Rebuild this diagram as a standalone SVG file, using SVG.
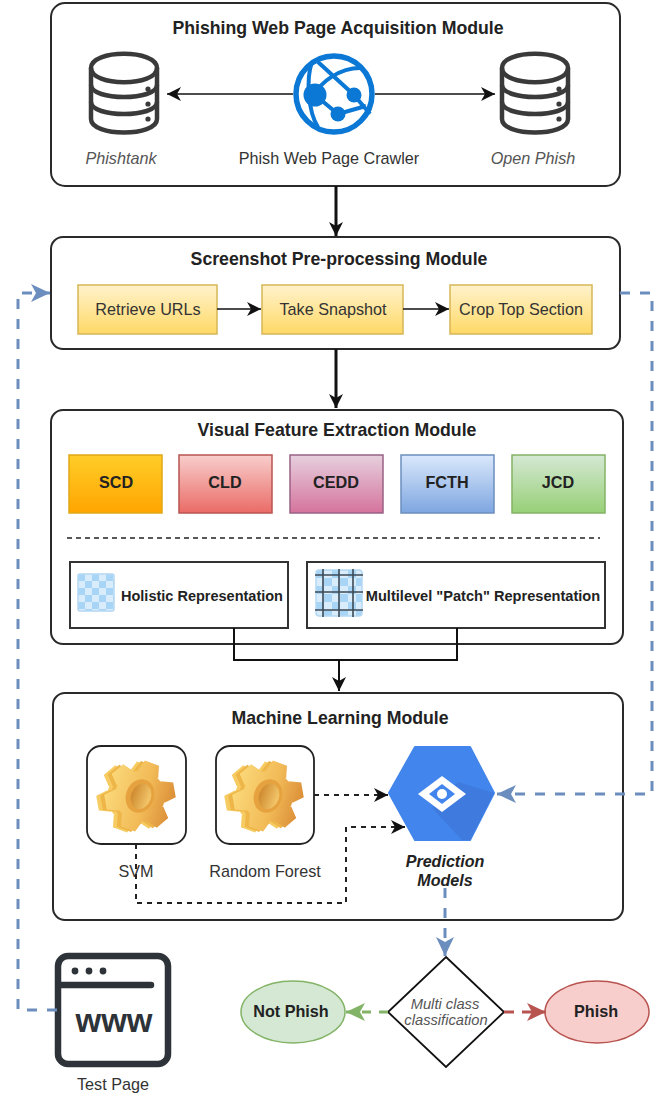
<svg xmlns="http://www.w3.org/2000/svg" xmlns:xlink="http://www.w3.org/1999/xlink" width="669" height="1097" viewBox="0 0 669 1097">
<style>
text{font-family:"Liberation Sans",Arial,sans-serif;fill:#222;text-anchor:middle}
.t{font-weight:bold;font-size:17.7px}
.l{font-size:16.2px;fill:#333}
.i{font-style:italic;font-size:16.2px;fill:#555}
.b{font-weight:bold;font-size:16.2px}
.m{fill:#fff;stroke:#2a2a2a;stroke-width:2}
.fb{stroke-width:1.5}
.rep{fill:#fff;stroke:#333;stroke-width:2}
.gb{fill:#fff;stroke:#222;stroke-width:1.8}
.c{fill:none;stroke:#111}
.d{fill:none;stroke:#222;stroke-width:2;stroke-dasharray:5 5}
.bl{fill:none;stroke:#6c8ebf;stroke-width:3;stroke-dasharray:10 10}
</style>
<defs>
<linearGradient id="gY" x1="0" y1="0" x2="0" y2="1"><stop offset="0" stop-color="#fff2cc"/><stop offset="1" stop-color="#ffd966"/></linearGradient>
<linearGradient id="g1" x1="0" y1="0" x2="0" y2="1"><stop offset="0" stop-color="#ffcd28"/><stop offset="1" stop-color="#ffa500"/></linearGradient>
<linearGradient id="g2" x1="0" y1="0" x2="0" y2="1"><stop offset="0" stop-color="#f8cecc"/><stop offset="1" stop-color="#ea6b66"/></linearGradient>
<linearGradient id="g3" x1="0" y1="0" x2="0" y2="1"><stop offset="0" stop-color="#e6d0de"/><stop offset="1" stop-color="#d5739d"/></linearGradient>
<linearGradient id="g4" x1="0" y1="0" x2="0" y2="1"><stop offset="0" stop-color="#dae8fc"/><stop offset="1" stop-color="#7ea6e0"/></linearGradient>
<linearGradient id="g5" x1="0" y1="0" x2="0" y2="1"><stop offset="0" stop-color="#d5e8d4"/><stop offset="1" stop-color="#97d077"/></linearGradient>
<linearGradient id="gf" gradientUnits="userSpaceOnUse" x1="-34" y1="-10" x2="36" y2="10"><stop offset="0" stop-color="#fbd97a"/><stop offset=".55" stop-color="#f2bb58"/><stop offset="1" stop-color="#d98a34"/></linearGradient>
<linearGradient id="gh" gradientUnits="userSpaceOnUse" x1="-12" y1="0" x2="12" y2="0"><stop offset="0" stop-color="#c97f25"/><stop offset="1" stop-color="#f6cc70"/></linearGradient>
<path id="tooth" d="M-11,-23 L-7.5,-35 L7.5,-35 L11,-23Z"/>
<clipPath id="gearClip">
<circle r="25"/>
<use href="#tooth" transform="rotate(20)"/><use href="#tooth" transform="rotate(80)"/><use href="#tooth" transform="rotate(140)"/><use href="#tooth" transform="rotate(200)"/><use href="#tooth" transform="rotate(260)"/><use href="#tooth" transform="rotate(320)"/>
</clipPath>
<g id="gear">
<g transform="translate(-8,1)"><rect x="-45" y="-45" width="90" height="90" fill="#f6cb62" clip-path="url(#gearClip)"/></g>
<g transform="translate(-4,0.5)"><rect x="-45" y="-45" width="90" height="90" fill="#eeb548" clip-path="url(#gearClip)"/></g>
<rect x="-45" y="-45" width="90" height="90" fill="url(#gf)" clip-path="url(#gearClip)"/>
<ellipse rx="14" ry="17" fill="#e5a23f" transform="rotate(20)"/>
<ellipse cx="1" cy="0" rx="10" ry="13" fill="url(#gh)" transform="rotate(20)"/>
</g>
<g id="db" fill="none" stroke="#3a3a3a" stroke-width="4.5">
<path d="M2,15 C2,-4 68,-4 68,15 V66 C68,84 2,84 2,66 Z"/>
<path d="M2,15 C2,34 68,34 68,15"/>
<path d="M2,32 C2,48 68,48 68,32"/>
<path d="M2,49 C2,65 68,65 68,49"/>
<g fill="#3a3a3a" stroke="none"><circle cx="59" cy="36" r="2.6"/><circle cx="59" cy="51" r="2.6"/><circle cx="59" cy="66" r="2.6"/></g>
</g>
<pattern id="chk" patternUnits="userSpaceOnUse" width="14" height="14" x="78" y="574"><rect width="14" height="14" fill="#d8ecfb"/><rect width="7" height="7" fill="#a8d4f5"/><rect x="7" y="7" width="7" height="7" fill="#a8d4f5"/></pattern>
<pattern id="chk2" patternUnits="userSpaceOnUse" width="16" height="16" x="316" y="570"><rect width="16" height="16" fill="#d8ecfb"/><rect width="8" height="8" fill="#a8d4f5"/><rect x="8" y="8" width="8" height="8" fill="#a8d4f5"/></pattern>
<marker id="aK" markerUnits="userSpaceOnUse" markerWidth="16" markerHeight="16" refX="14" refY="7" orient="auto"><path d="M0,0 L14,7 L0,14 L4,7Z" fill="#111"/></marker>
<marker id="aB" markerUnits="userSpaceOnUse" markerWidth="22" markerHeight="22" refX="19" refY="9" orient="auto"><path d="M0,0 L19,9 L0,18 L5,9Z" fill="#6c8ebf"/></marker>
<marker id="aG" markerUnits="userSpaceOnUse" markerWidth="22" markerHeight="22" refX="19" refY="9" orient="auto"><path d="M0,0 L19,9 L0,18 L5,9Z" fill="#82b366"/></marker>
<marker id="aR" markerUnits="userSpaceOnUse" markerWidth="22" markerHeight="22" refX="19" refY="9" orient="auto"><path d="M0,0 L19,9 L0,18 L5,9Z" fill="#b85450"/></marker>
</defs>
<rect width="669" height="1097" fill="#fff"/>

<g id="module1">
<rect class="m" x="51" y="3" width="569" height="183" rx="14"/>
<text class="t" x="338" y="34">Phishing Web Page Acquisition Module</text>
</g>
<g id="phishtank"><use href="#db" x="89" y="53"/><text class="i" x="121" y="164">Phishtank</text></g>
<g id="openphish"><use href="#db" x="500" y="53"/><text class="i" x="533" y="164">Open Phish</text></g>
<g id="crawler">
<circle cx="334" cy="94" r="38" fill="#fff" stroke="#0a78d4" stroke-width="5.5"/>
<path d="M312,62 C306,78 308,112 318,127 M318,62 L354,95 L370,114 M360,68 C340,68 320,82 315,95 M315,95 L338,114 L366,106" fill="none" stroke="#0a78d4" stroke-width="4"/>
<circle cx="315" cy="95" r="11.5" fill="#0a78d4"/><circle cx="354" cy="95" r="7.5" fill="#0a78d4"/><circle cx="338" cy="114" r="7.5" fill="#0a78d4"/>
<text class="l" x="329" y="164">Phish Web Page Crawler</text>
</g>

<g id="module2"><rect class="m" x="51" y="237" width="569" height="112" rx="12"/>
<text class="t" x="339" y="265">Screenshot Pre-processing Module</text></g>
<g id="retrieve"><rect x="78" y="285" width="139" height="49" fill="url(#gY)" stroke="#d6b656" stroke-width="1.5"/><text class="l" x="148" y="315">Retrieve URLs</text></g>
<g id="snapshot"><rect x="262" y="285" width="141" height="49" fill="url(#gY)" stroke="#d6b656" stroke-width="1.5"/><text class="l" x="333" y="315">Take Snapshot</text></g>
<g id="crop"><rect x="450" y="285" width="142" height="49" fill="url(#gY)" stroke="#d6b656" stroke-width="1.5"/><text class="l" x="521" y="315">Crop Top Section</text></g>

<g id="module3"><rect class="m" x="51" y="410" width="572" height="234" rx="12"/>
<text class="t" x="337" y="436">Visual Feature Extraction Module</text>
<path d="M67,538 H600" fill="none" stroke="#222" stroke-width="1.6" stroke-dasharray="5 4"/></g>
<g id="scd"><rect class="fb" x="69" y="455" width="93" height="58" fill="url(#g1)" stroke="#e0a818"/><text class="b" x="116" y="488">SCD</text></g>
<g id="cld"><rect class="fb" x="179" y="455" width="93" height="58" fill="url(#g2)" stroke="#b85450"/><text class="b" x="225" y="488">CLD</text></g>
<g id="cedd"><rect class="fb" x="290" y="455" width="93" height="58" fill="url(#g3)" stroke="#996185"/><text class="b" x="336" y="488">CEDD</text></g>
<g id="fcth"><rect class="fb" x="401" y="455" width="93" height="58" fill="url(#g4)" stroke="#6c8ebf"/><text class="b" x="447" y="488">FCTH</text></g>
<g id="jcd"><rect class="fb" x="512" y="455" width="93" height="58" fill="url(#g5)" stroke="#82b366"/><text class="b" x="558" y="488">JCD</text></g>
<g id="holistic"><rect class="rep" x="70" y="562" width="218" height="66"/>
<rect x="78" y="574" width="36" height="37" rx="2" fill="url(#chk)" stroke="#b4d8f2" stroke-width="1.5"/>
<text x="202" y="601" style="font-size:14.5px;font-weight:bold">Holistic Representation</text></g>
<g id="multilevel"><rect class="rep" x="307" y="562" width="298" height="66"/>
<rect x="316" y="570" width="46" height="46" rx="3" fill="url(#chk2)" stroke="#b4d8f2" stroke-width="1.5"/>
<path d="M323,569 V617 M339,569 V617 M353,569 V617 M315,575 H363 M315,592 H363 M315,610 H363" fill="none" stroke="#3c4a55" stroke-width="1.6"/>
<text x="483" y="601" style="font-size:14.6px;font-weight:bold">Multilevel "Patch" Representation</text></g>

<g id="module4"><rect class="m" x="53" y="693" width="570" height="227" rx="12"/>
<text class="t" x="340" y="724">Machine Learning Module</text></g>
<g id="svm"><rect class="gb" x="87" y="746" width="99" height="98" rx="14"/>
<use href="#gear" transform="translate(140,796)"/>
<text class="l" x="136" y="877">SVM</text></g>
<g id="rf"><rect class="gb" x="216" y="746" width="98" height="98" rx="14"/>
<use href="#gear" transform="translate(268,796)"/>
<text class="l" x="265" y="877">Random Forest</text></g>
<g id="prediction">
<path d="M389,793 L415,747 H470 L494,793 L470,840 H415 Z" fill="#4285ec" stroke="#4285ec" stroke-width="2" stroke-linejoin="round"/>
<path d="M458,782 L494,793 L470,840 H462 L432,808 Z" fill="#3f7bde"/>
<path d="M442,776 L466,794 L442,812 L418,794 Z" fill="#fff"/>
<path d="M442,784 L455,794 L442,804 L429,794 Z" fill="#4285ec"/>
<circle cx="442" cy="794" r="5" fill="#fff"/>
<text x="445" y="867" style="font-size:16.1px;font-weight:bold;font-style:italic">Prediction</text>
<text x="445" y="886" style="font-size:16.1px;font-weight:bold;font-style:italic">Models</text>
</g>

<g id="testpage">
<rect x="58" y="956" width="110" height="108" rx="10" fill="#fff" stroke="#2d3338" stroke-width="6.5"/>
<path d="M60,985 H151" stroke="#2d3338" stroke-width="6.5" stroke-linecap="round" fill="none"/>
<circle cx="75" cy="971" r="3.4" fill="#2d3338"/><circle cx="89" cy="971" r="3.4" fill="#2d3338"/><circle cx="103" cy="971" r="3.4" fill="#2d3338"/>
<text x="114" y="1032" style="font-size:33px;font-weight:bold;fill:#2d3338">www</text>
<text class="l" x="113" y="1090">Test Page</text>
</g>
<g id="decision"><path d="M446,957 L504,1012 L446,1067 L388,1012 Z" fill="#fff" stroke="#111" stroke-width="1.8"/>
<text class="i" x="445" y="1009" style="font-size:14.7px">Multi class</text>
<text class="i" x="446" y="1025" style="font-size:14.7px">classification</text></g>
<g id="notphish"><ellipse cx="293" cy="1012" rx="52" ry="31" fill="#d5e8d4" stroke="#82b366" stroke-width="1.5"/><text class="b" x="291" y="1017">Not Phish</text></g>
<g id="phish"><ellipse cx="597" cy="1012" rx="52" ry="31" fill="#f8cecc" stroke="#b85450" stroke-width="1.5"/><text class="b" x="596" y="1017">Phish</text></g>

<g id="connectors">
<path class="c" stroke-width="1.7" d="M293,94 H167" marker-end="url(#aK)"/>
<path class="c" stroke-width="1.7" d="M375,94 H495" marker-end="url(#aK)"/>
<path class="c" stroke-width="3" d="M336,186 V236" marker-end="url(#aK)"/>
<path class="c" stroke-width="1.7" d="M217,309 H261" marker-end="url(#aK)"/>
<path class="c" stroke-width="1.7" d="M403,309 H449" marker-end="url(#aK)"/>
<path class="c" stroke-width="3" d="M336,349 V408" marker-end="url(#aK)"/>
<path class="c" stroke-width="2" d="M234,628 V660 H457 V628"/>
<path class="c" stroke-width="2" d="M339,660 V691" marker-end="url(#aK)"/>
<path class="d" d="M314,795 H388" marker-end="url(#aK)"/>
<path class="d" d="M136,844 V903 H346 V827 H405" marker-end="url(#aK)"/>
<path class="bl" d="M620,293 H652 V794 H497" marker-end="url(#aB)"/>
<path class="bl" d="M57,1010 H18 V293 H50" marker-end="url(#aB)"/>
<path class="bl" d="M445,888 V956" marker-end="url(#aB)"/>
<path fill="none" stroke="#82b366" stroke-width="3" stroke-dasharray="9 8" d="M388,1012 H346" marker-end="url(#aG)"/>
<path fill="none" stroke="#b85450" stroke-width="3" stroke-dasharray="10 8" d="M504,1012 H546" marker-end="url(#aR)"/>
</g>
</svg>
